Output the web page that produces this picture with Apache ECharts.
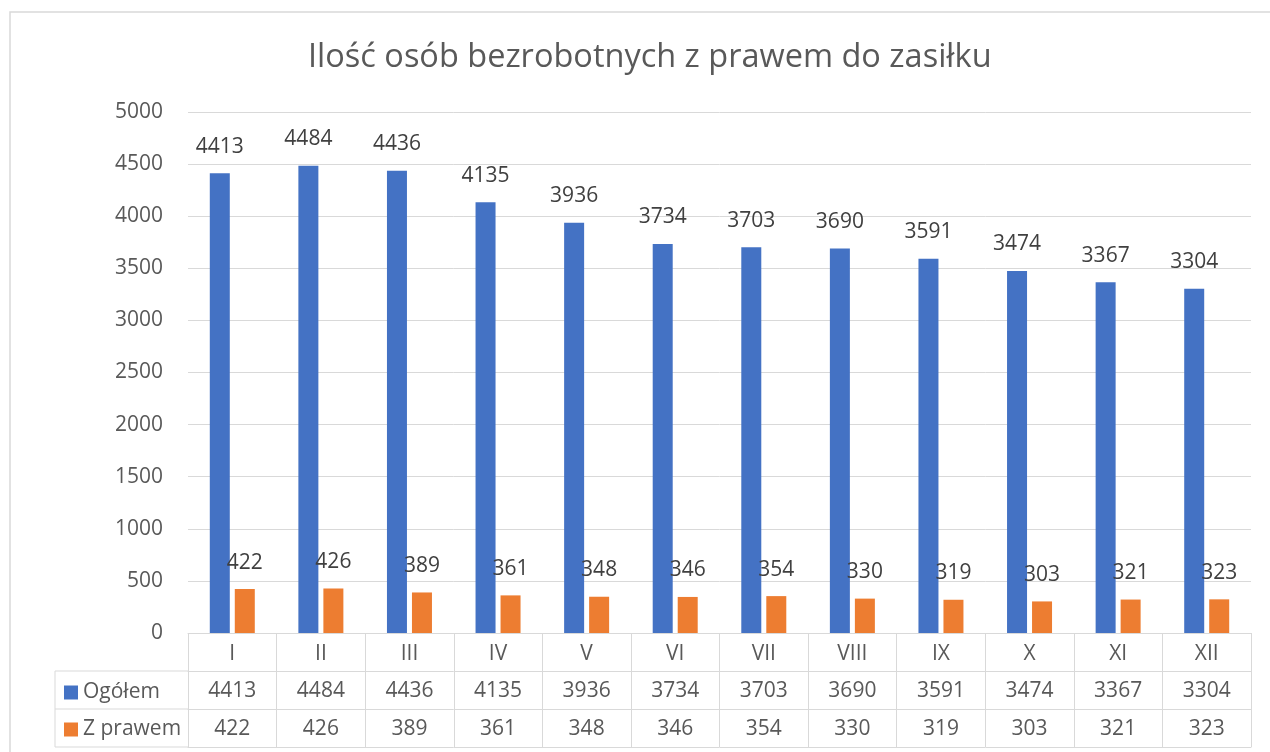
<!DOCTYPE html>
<html>
<head>
<meta charset="utf-8">
<script src="https://cdn.jsdelivr.net/npm/echarts@6/dist/echarts.min.js"></script>
<style>
html,body{margin:0;padding:0;background:#fff;}
#chart{width:1270px;height:752px;}
</style>
</head>
<body>
<div id="chart"></div>
<script>
const categories = ['I','II','III','IV','V','VI','VII','VIII','IX','X','XI','XII'];
const ogolem = [4413,4484,4436,4135,3936,3734,3703,3690,3591,3474,3367,3304];
const zPrawem = [422,426,389,361,348,346,354,330,319,303,321,323];
const seriesNames = ['Ogółem','Z prawem'];
const yTicks = {min:0, max:5000, interval:500};

const FONT = "'Open Sans', 'Noto Sans', sans-serif";
const FS = 21;
const GRID = {left:188, right:19, top:112, bottom:119};
const H = 752;
const axisY = H - GRID.bottom;
const ROW = 38;
const TABLE_LEFT = 55;
const LINE = '#d9d9d9';
const TXT = '#595959';

const chart = echarts.init(document.getElementById('chart'));

function tableAxis(data, offset, showLabel){
  return {
    type:'category', data:data, position:'bottom', offset:offset, gridIndex:0,
    axisLine:{show:true, lineStyle:{color:LINE, width:1}},
    axisTick:{show:false},
    axisLabel:{show:showLabel, interval:0, margin:10, fontSize:FS, color:TXT, fontFamily:FONT}
  };
}

const option = {
  backgroundColor:'#fff',
  animation:false,
  title:{
    text:'Ilość osób bezrobotnych z prawem do zasiłku',
    left:303, top:36,
    textStyle:{fontSize:32.5, fontWeight:'normal', color:TXT, fontFamily:FONT}
  },
  legend:{
    orient:'vertical', left:64, top:682, padding:0,
    itemWidth:14, itemHeight:14, itemGap:16,
    icon:'rect',
    textStyle:{fontSize:FS, color:TXT, fontFamily:FONT},
    data:seriesNames
  },
  grid:GRID,
  xAxis:[
    {
      type:'category', data:categories, position:'bottom', gridIndex:0,
      axisLine:{show:true, lineStyle:{color:LINE, width:1}},
      axisTick:{show:true, interval:0, length:ROW*3, lineStyle:{color:LINE, width:1}},
      axisLabel:{interval:0, margin:11, fontSize:FS, color:TXT, fontFamily:FONT}
    },
    tableAxis(ogolem.map(String), ROW, true),
    tableAxis(zPrawem.map(String), ROW*2, true),
    tableAxis(categories, ROW*3, false)
  ],
  yAxis:{
    type:'value', min:yTicks.min, max:yTicks.max, interval:yTicks.interval,
    axisLine:{show:false}, axisTick:{show:false},
    axisLabel:{margin:25, fontSize:FS, color:TXT, fontFamily:FONT, formatter:(v)=>String(v)},
    splitLine:{lineStyle:{color:LINE, width:1}}
  },
  series:[
    {
      name:seriesNames[0], type:'bar', data:ogolem, barWidth:20, barGap:'25%',
      itemStyle:{color:'#4472C4'},
      label:{show:true, position:'top', distance:16, fontSize:FS, color:'#404040', fontFamily:FONT}
    },
    {
      name:seriesNames[1], type:'bar', data:zPrawem, barWidth:20,
      itemStyle:{color:'#ED7D31'},
      label:{show:true, position:'top', distance:16, fontSize:FS, color:'#404040', fontFamily:FONT}
    }
  ],
  graphic:[
    {type:'rect', shape:{x:10, y:12, width:1300, height:800}, style:{fill:'none', stroke:LINE, lineWidth:1.5}, silent:true, z:-1},
    {type:'line', shape:{x1:TABLE_LEFT, y1:axisY+ROW, x2:GRID.left, y2:axisY+ROW}, style:{stroke:LINE, lineWidth:1}},
    {type:'line', shape:{x1:TABLE_LEFT, y1:axisY+ROW*2, x2:GRID.left, y2:axisY+ROW*2}, style:{stroke:LINE, lineWidth:1}},
    {type:'line', shape:{x1:TABLE_LEFT, y1:axisY+ROW*3, x2:GRID.left, y2:axisY+ROW*3}, style:{stroke:LINE, lineWidth:1}},
    {type:'line', shape:{x1:TABLE_LEFT, y1:axisY+ROW, x2:TABLE_LEFT, y2:axisY+ROW*3}, style:{stroke:LINE, lineWidth:1}}
  ]
};
chart.setOption(option);
</script>
</body>
</html>
